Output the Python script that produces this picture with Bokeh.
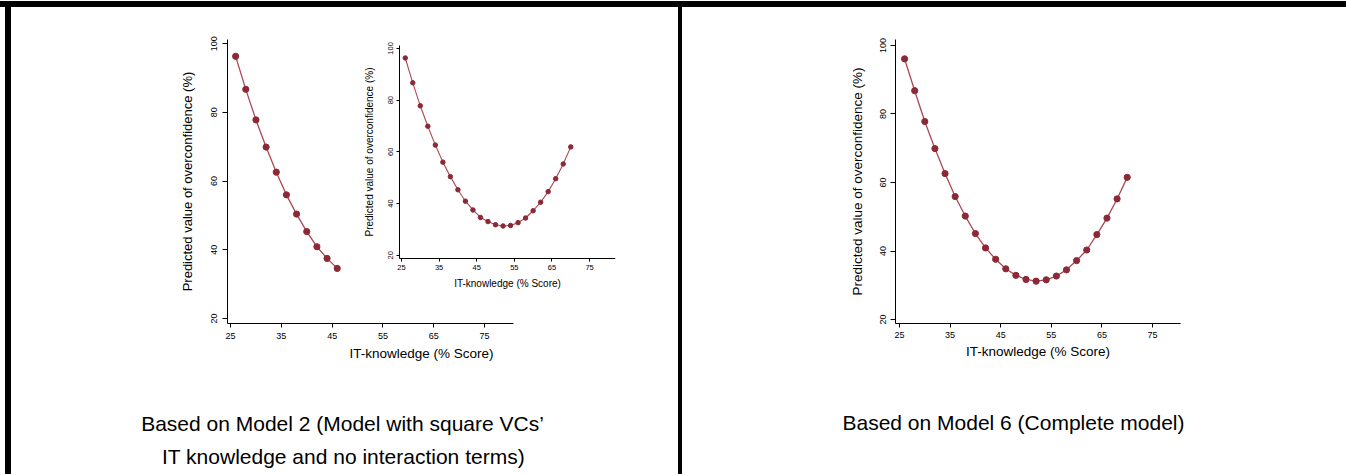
from bokeh.plotting import figure
from bokeh.models import Range1d, LinearAxis, FixedTicker, Label, Div, Spacer
from bokeh.layouts import row, column
from bokeh.embed import file_html
from bokeh.resources import INLINE

# ---------------- data ----------------
knowledge = [26, 28, 30, 32, 34, 36, 38, 40, 42, 44, 46, 48,
             50, 52, 54, 56, 58, 60, 62, 64, 66, 68, 70]
model2_pred = [96.3, 86.7, 77.8, 69.9, 62.6, 56.0, 50.4, 45.3, 40.9, 37.5, 34.6, 33.0,
               31.8, 31.3, 31.5, 32.6, 34.4, 37.2, 40.5, 44.6, 49.6, 55.3, 61.9]
model6_pred = [96.1, 86.8, 77.8, 69.9, 62.6, 55.9, 50.2, 45.1, 40.9, 37.6, 34.8, 32.9,
               31.7, 31.2, 31.6, 32.7, 34.5, 37.2, 40.3, 44.8, 49.6, 55.2, 61.5]
main_points = 11          # main left panel shows knowledge 26..46 only
x_ticks = [25, 35, 45, 55, 65, 75]
y_ticks = [20, 40, 60, 80, 100]
y_title = "Predicted value of overconfidence (%)"
x_title = "IT-knowledge (% Score)"
caption_left = ["Based on Model 2 (Model with square VCs\u2019",
                "IT knowledge and no interaction terms)"]
caption_right = "Based on Model 6 (Complete model)"

FONT = "Liberation Sans"
MARK = "#8b2a36"
LINE = "#ac4853"


def style_axis(ax, tick_size, label_size, tick_out, standoff, label_standoff, vertical=False):
    ax.axis_line_color = "black"
    ax.axis_line_width = 1
    ax.major_tick_line_color = "black"
    ax.major_tick_in = 0
    ax.major_tick_out = tick_out
    ax.minor_tick_line_color = None
    ax.major_label_text_font = FONT
    ax.major_label_text_font_size = tick_size
    ax.major_label_text_color = "black"
    ax.major_label_standoff = standoff
    ax.axis_label_text_font = FONT
    ax.axis_label_text_font_size = label_size
    ax.axis_label_text_font_style = "normal"
    ax.axis_label_text_color = "black"
    ax.axis_label_standoff = label_standoff
    if vertical:
        ax.major_label_orientation = "vertical"


def base_fig(w, h, xr, yr, left, right, top, bottom):
    f = figure(width=w, height=h, x_range=xr, y_range=yr,
               output_backend="svg", toolbar_location=None,
               min_border_left=left, min_border_right=right,
               min_border_top=top, min_border_bottom=bottom,
               background_fill_color="white", border_fill_color="white",
               outline_line_color=None)
    f.grid.grid_line_color = None
    return f


def caption_fig(w, h, lines):
    c = figure(width=w, height=h, x_range=Range1d(0, w), y_range=Range1d(0, h),
               output_backend="svg", toolbar_location=None,
               x_axis_location=None, y_axis_location=None, min_border=0,
               background_fill_color="white", border_fill_color="white",
               outline_line_color=None)
    c.grid.grid_line_color = None
    for (x, y, t) in lines:
        c.add_layout(Label(x=x, y=y, text=t, text_align="center", text_baseline="middle",
                           text_font=FONT, text_font_size="21px", text_color="black"))
    return c


def black(w, h):
    return Div(text="", width=w, height=h,
               styles={"background-color": "black", "margin": "0", "padding": "0"})


CHART_H = 370
CAP_H = 97

# ---------------- left panel (Model 2 + inset) ----------------
left = base_fig(667, CHART_H, Range1d(24.4, 100.78), Range1d(18.56, 101.2), 216, 63, 32, CHART_H - 319)
left.extra_x_ranges = {"inset_x": Range1d(-21.26, 81.9)}
left.extra_y_ranges = {"inset_y": Range1d(-6.42, 103.45)}

left.xaxis.bounds = (24.4, 80.7)
left.xaxis.ticker = FixedTicker(ticks=x_ticks)
left.xaxis.axis_label = x_title
left.yaxis.ticker = FixedTicker(ticks=y_ticks)
left.yaxis.axis_label = y_title
style_axis(left.xaxis[0], "9px", "13.5px", 4, 5, 4)
style_axis(left.yaxis[0], "9px", "13px", 5, 5, 14, vertical=True)

left.line(knowledge[:main_points], model2_pred[:main_points], line_color=LINE, line_width=1.3)
left.scatter(knowledge[:main_points], model2_pred[:main_points], size=6.2,
             fill_color=MARK, line_color=MARK)

iy = LinearAxis(x_range_name="inset_x", y_range_name="inset_y", fixed_location=24.47,
                bounds=(18.85, 101.15), ticker=FixedTicker(ticks=y_ticks), axis_label=y_title)
style_axis(iy, "7.5px", "10px", 3, 3, 11, vertical=True)
left.add_layout(iy, "left")
ix = LinearAxis(x_range_name="inset_x", y_range_name="inset_y", fixed_location=18.85,
                bounds=(24.47, 81.9), ticker=FixedTicker(ticks=x_ticks), axis_label=x_title)
style_axis(ix, "7.5px", "10px", 3, 4, 4)
left.add_layout(ix, "below")

left.line(knowledge, model2_pred, x_range_name="inset_x", y_range_name="inset_y",
          line_color=LINE, line_width=1.1)
left.scatter(knowledge, model2_pred, x_range_name="inset_x", y_range_name="inset_y",
             size=4.5, fill_color=MARK, line_color=MARK)

left_cap = caption_fig(667, CAP_H, [(331, CAP_H - 46, caption_left[0]),
                                    (332, CAP_H - 79, caption_left[1])])

# ---------------- right panel (Model 6) ----------------
right = base_fig(664, CHART_H, Range1d(24.21, 80.53), Range1d(18.84, 101.74), 213, 664 - 498, 30, CHART_H - 316)
right.xaxis.ticker = FixedTicker(ticks=x_ticks)
right.xaxis.axis_label = x_title
right.yaxis.ticker = FixedTicker(ticks=y_ticks)
right.yaxis.axis_label = y_title
style_axis(right.xaxis[0], "9px", "13.5px", 4, 4, 3)
style_axis(right.yaxis[0], "9px", "13.5px", 5, 4, 13, vertical=True)

right.line(knowledge, model6_pred, line_color=LINE, line_width=1.3)
right.scatter(knowledge, model6_pred, size=6.2, fill_color=MARK, line_color=MARK)

right_cap = caption_fig(664, CAP_H, [(331, CAP_H - 45, caption_right)])

# ---------------- page frame ----------------
layout = column(
    Spacer(width=1346, height=1),
    black(1346, 6),
    row(Spacer(width=5, height=CHART_H), black(6, CHART_H), left, black(4, CHART_H), right),
    row(Spacer(width=5, height=CAP_H), black(6, CAP_H), left_cap, black(4, CAP_H), right_cap),
)

open("out.html", "w").write(file_html(layout, INLINE))
